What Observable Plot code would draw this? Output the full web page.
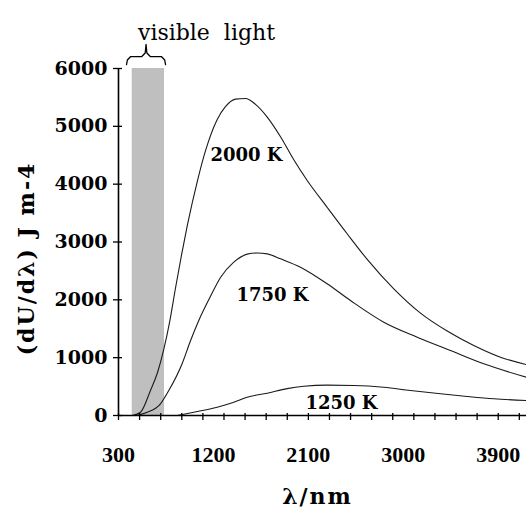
<!DOCTYPE html>
<html>
<head>
<meta charset="utf-8">
<script src="https://cdn.jsdelivr.net/npm/d3@7"></script>
<script src="https://cdn.jsdelivr.net/npm/@observablehq/plot@0.6"></script>
<style>
  body { margin: 0; background: #fff; }
  svg text { white-space: pre; }
</style>
</head>
<body>
<div id="chart"></div>
<script>
// ---- data ----
const wl2000 = [430, 509, 603, 670, 727, 783, 840, 900, 954, 1049, 1125, 1236, 1314, 1409, 1504, 1599, 1710, 1836, 1959, 2089, 2278, 2468, 2658, 2910, 3163, 3416, 3668, 3921, 4168];
const u2000  = [0, 57, 432, 743, 1124, 1600, 2200, 2800, 3300, 4063, 4580, 5120, 5340, 5470, 5480, 5380, 5160, 4820, 4430, 4063, 3600, 3142, 2700, 2190, 1770, 1460, 1210, 1008, 880];

const wl1750 = [470, 572, 698, 777, 904, 980, 1061, 1172, 1267, 1393, 1520, 1615, 1710, 1836, 2025, 2278, 2499, 2815, 3132, 3447, 3763, 4168];
const u1750  = [0, 57, 202, 432, 900, 1280, 1643, 2060, 2386, 2651, 2790, 2810, 2795, 2709, 2564, 2277, 1988, 1613, 1354, 1124, 894, 662];

const wl1250 = [856, 1014, 1236, 1393, 1520, 1710, 1899, 2057, 2278, 2531, 2815, 3068, 3353, 3606, 3858, 4168];
const u1250  = [0, 57, 144, 230, 316, 386, 465, 505, 525, 520, 489, 432, 375, 329, 289, 259];

const seriesNames = ["2000 K", "1750 K", "1250 K"];
const labelX = [1513, 1760, 2414];
const labelY = [4409, 1988, 121];

const xTickLabels = [300, 1200, 2100, 3000, 3900];
const xMinorTicks = [300, 500, 700, 900, 1100, 1300, 1500, 1700, 1900, 2100, 2300, 2500, 2700, 2900, 3100, 3300, 3500, 3700, 3900, 4100];
const yTicks = [0, 1000, 2000, 3000, 4000, 5000, 6000];
const xDomain = [300, 4168];
const yDomain = [0, 6000];

const visibleBand = [430, 736];
const braceSpan = [376, 746];
const braceLevels = [6069, 6207, 6415]; // tips, bar, cusp
const bandLabel = "visible  light";
const xTitle = "λ/nm";
const yTitle = "(dU/dλ) J m-4";

// ---- build tables ----
const curves = [
  ...wl2000.map((x, i) => ({T: seriesNames[0], x, y: u2000[i]})),
  ...wl1750.map((x, i) => ({T: seriesNames[1], x, y: u1750[i]})),
  ...wl1250.map((x, i) => ({T: seriesNames[2], x, y: u1250[i]}))
];
const curveLabels = seriesNames.map((t, i) => ({t, x: labelX[i], y: labelY[i]}));

const [b0, b1] = braceSpan;
const bm = (b0 + b1) / 2;
const [yTip, yBar, yCusp] = braceLevels;
const brace = [
  [b0, yTip], [b0 + 8, yBar - 60], [b0 + 40, yBar], [bm - 40, yBar], [bm - 8, yBar + 60], [bm, yCusp],
  [bm + 8, yBar + 60], [bm + 40, yBar], [b1 - 40, yBar], [b1 - 8, yBar - 60], [b1, yTip]
];

const serifWide = "DejaVu Serif";
const serif = "Liberation Serif";

const chart = Plot.plot({
  width: 526,
  height: 518,
  marginLeft: 118,
  marginRight: 0,
  marginTop: 68,
  marginBottom: 103,
  x: {domain: xDomain, axis: null},
  y: {domain: yDomain, axis: null},
  style: {background: "#fff", overflow: "visible"},
  marks: [
    Plot.rect([visibleBand], {x1: d => d[0], x2: d => d[1], y1: yDomain[0], y2: yDomain[1], fill: "#bfbfbf"}),
    Plot.line(curves, {x: "x", y: "y", z: "T", stroke: "#1a1a1a", strokeWidth: 1.1, curve: "monotone-x"}),
    // axes lines
    Plot.ruleX([xDomain[0]], {y1: yDomain[0], y2: yDomain[1], stroke: "#000", strokeWidth: 1.6}),
    Plot.ruleY([0], {x1: xDomain[0], x2: xDomain[1], stroke: "#000", strokeWidth: 1.6}),
    // ticks crossing the axes
    Plot.ruleY(yTicks, {x1: xDomain[0], x2: xDomain[0], insetLeft: -5, insetRight: -4, stroke: "#000", strokeWidth: 1.3}),
    Plot.ruleX(xMinorTicks, {y1: 0, y2: 0, insetTop: 5, insetBottom: 2, stroke: "#000", strokeWidth: 1.3}),
    // tick labels
    Plot.text(yTicks, {x: xDomain[0], y: d => d, text: d => String(d), dx: -11, textAnchor: "end",
      fontFamily: serifWide, fontWeight: "bold", fontSize: 19, fill: "#000"}),
    Plot.text(xTickLabels, {x: d => d, y: 0, text: d => String(d), dy: 39,
      fontFamily: serif, fontWeight: "bold", fontSize: 22, fill: "#000"}),
    // curve labels
    Plot.text(curveLabels, {x: "x", y: "y", text: "t", lineAnchor: "bottom",
      fontFamily: serifWide, fontWeight: "bold", fontSize: 18, fill: "#000"}),
    // brace + band label
    Plot.line(brace, {x: d => d[0], y: d => d[1], stroke: "#000", strokeWidth: 1.3}),
    Plot.text([bandLabel], {frameAnchor: "top-left", textAnchor: "middle", dx: 88, dy: -44, text: d => d,
      fontFamily: serifWide, fontSize: 22, fill: "#000"}),
    // axis titles
    Plot.text([xTitle], {frameAnchor: "bottom-left", textAnchor: "middle", dx: 199, dy: 88, text: d => d,
      fontFamily: serifWide, fontWeight: "bold", fontSize: 22, fill: "#000"}),
    Plot.text([yTitle], {frameAnchor: "left", textAnchor: "middle", dx: -91.5, dy: 16.5, rotate: -90, text: d => d,
      fontFamily: serifWide, fontWeight: "bold", fontSize: 22, fill: "#000"})
  ]
});

d3.select(chart).selectAll("text")
  .filter(function () { return this.textContent === yTitle || this.textContent === xTitle; })
  .style("letter-spacing", "2px");

document.getElementById("chart").appendChild(chart);
</script>
</body>
</html>
